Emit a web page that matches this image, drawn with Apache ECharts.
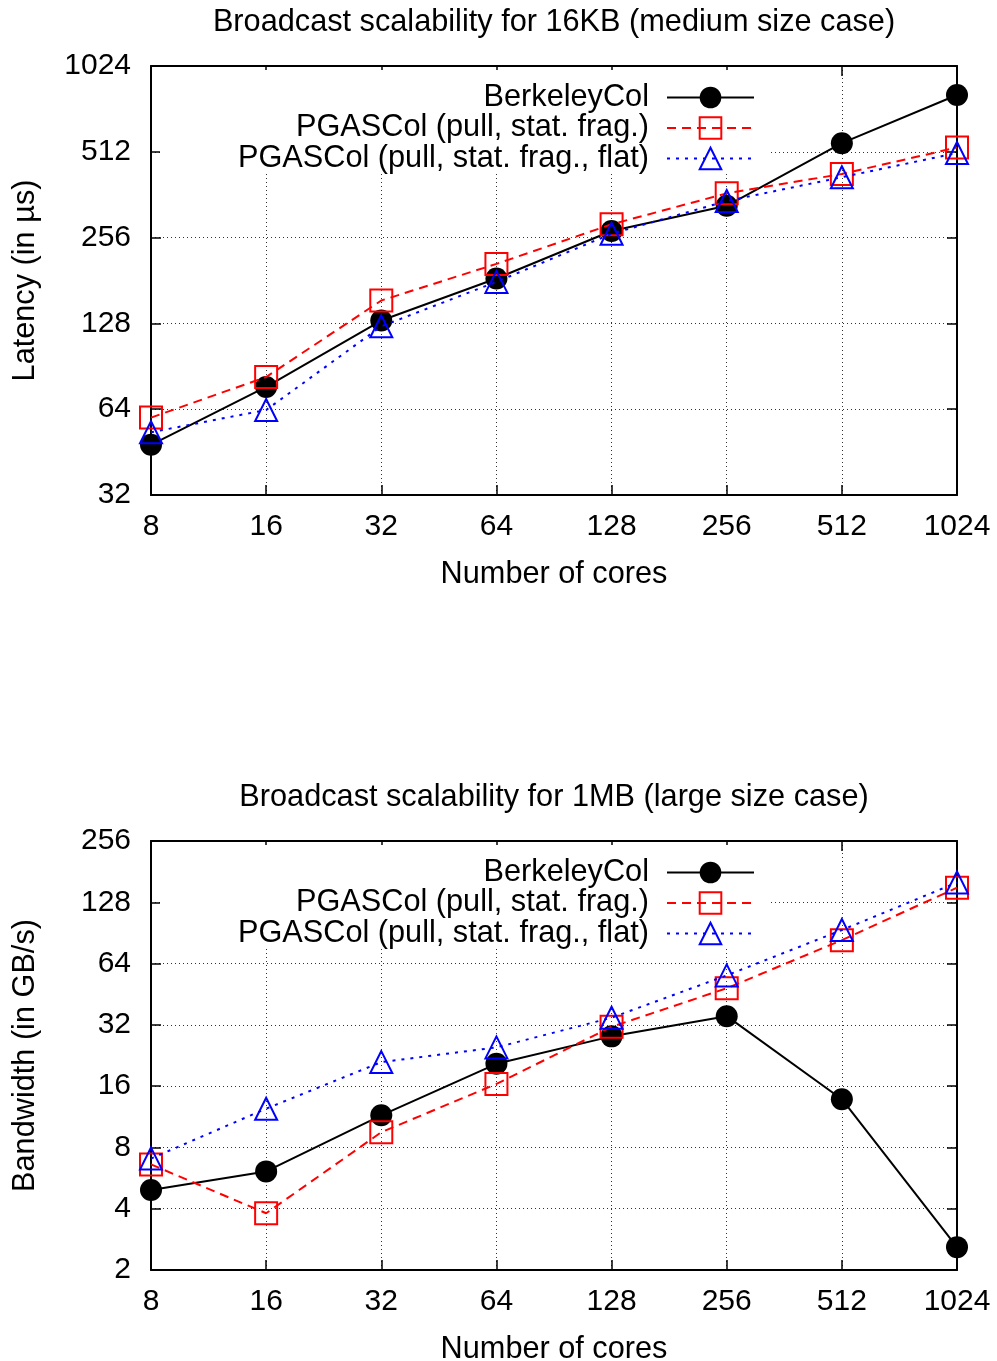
<!DOCTYPE html>
<html>
<head>
<meta charset="utf-8">
<script src="https://cdn.jsdelivr.net/npm/echarts@6/dist/echarts.min.js"></script>
<style>
html,body{margin:0;padding:0;background:#fff;}
#chart{width:997px;height:1361px;}
</style>
</head>
<body>
<div id="chart"></div>
<script>
// ---- data ----
const cores = [8, 16, 32, 64, 128, 256, 512, 1024];
const seriesNames = ['BerkeleyCol', 'PGASCol (pull, stat. frag.)', 'PGASCol (pull, stat. frag., flat)'];
// Top chart: latency (µs), 16KB
const latBerkeley = [48, 76.6, 131, 184, 270, 331, 549, 810];
const latPgas = [59.8, 83, 154, 207, 285, 366, 428, 530];
const latPgasFlat = [53.1, 63.6, 125, 179, 264, 344, 417, 507];
// Bottom chart: bandwidth (GB/s), 1MB
const bwBerkeley = [4.94, 6.1, 11.5, 20.6, 28.1, 35.3, 13.8, 2.59];
const bwPgas = [6.6, 3.8, 9.5, 16.4, 31.3, 48.4, 83.4, 151];
const bwPgasFlat = [7.05, 12.4, 21, 24.8, 34.7, 56, 93.5, 160];
const titles = ['Broadcast scalability for 16KB (medium size case)', 'Broadcast scalability for 1MB (large size case)'];
const yNames = ['Latency (in µs)', 'Bandwidth (in GB/s)'];
const xName = 'Number of cores';

const FONT = 'Liberation Sans, Arial, Helvetica, sans-serif';
const FS = 30.7;
const TFS = 30;
const chart = echarts.init(document.getElementById('chart'), null, {renderer: 'canvas'});

const gridTops = [66, 841];
const yRanges = [[32, 1024], [2, 256]];

function pairs(arr) { return cores.map((c, i) => [c, arr[i]]); }
function fmt(v) { return String(Math.round(v)); }

const styles = [
  {symbol: 'circle', symbolSize: 22, itemStyle: {color: '#000'}, lineStyle: {color: '#000', width: 2, type: 'solid'}},
  {symbol: 'rect', symbolSize: 22, itemStyle: {color: 'rgba(255,255,255,0)', borderColor: '#ff0000', borderWidth: 2}, lineStyle: {color: '#ff0000', width: 2, type: [9, 6]}},
  {symbol: 'triangle', symbolSize: 22, itemStyle: {color: 'rgba(255,255,255,0)', borderColor: '#0000ff', borderWidth: 2}, lineStyle: {color: '#0000ff', width: 2, type: [3, 6]}}
];

const grid = [], xAxis = [], yAxis = [], series = [], title = [], legend = [];
const dataSets = [[latBerkeley, latPgas, latPgasFlat], [bwBerkeley, bwPgas, bwPgasFlat]];

for (let g = 0; g < 2; g++) {
  grid.push({left: 151, right: 40, top: gridTops[g], height: 429, containLabel: false, outerBoundsMode: 'none'});
  title.push({
    text: titles[g], left: 554, top: gridTops[g] - 59, textAlign: 'center', padding: 0,
    textStyle: {fontFamily: FONT, fontSize: FS, fontWeight: 'normal', color: '#000'}
  });
  const tick = {show: true, inside: true, length: 10, lineStyle: {color: '#000', width: 1.5}};
  const line = {show: true, lineStyle: {color: '#000', width: 2}};
  const split = {show: true, lineStyle: {color: '#333', width: 1, type: [1, 3]}};
  xAxis.push({
    type: 'log', logBase: 2, min: 8, max: 1024, interval: 1, gridIndex: g, position: 'bottom',
    name: xName, nameLocation: 'middle', nameGap: 64,
    nameTextStyle: {fontFamily: FONT, fontSize: FS, color: '#000'},
    axisLine: line, axisTick: tick, splitLine: split, minorTick: {show: false},
    axisLabel: {fontFamily: FONT, fontSize: TFS, color: '#000', margin: 17, formatter: fmt}
  });
  xAxis.push({
    type: 'log', logBase: 2, min: 8, max: 1024, interval: 1, gridIndex: g, position: 'top',
    axisLine: line, axisTick: tick, splitLine: {show: false}, axisLabel: {show: false}
  });
  yAxis.push({
    type: 'log', logBase: 2, min: yRanges[g][0], max: yRanges[g][1], interval: 1, gridIndex: g, position: 'left',
    name: yNames[g], nameLocation: 'middle', nameGap: 110,
    nameTextStyle: {fontFamily: FONT, fontSize: FS, color: '#000'},
    axisLine: line, axisTick: tick, splitLine: split,
    axisLabel: {fontFamily: FONT, fontSize: TFS, color: '#000', margin: 20, formatter: fmt}
  });
  yAxis.push({
    type: 'log', logBase: 2, min: yRanges[g][0], max: yRanges[g][1], interval: 1, gridIndex: g, position: 'right',
    axisLine: line, axisTick: tick, splitLine: {show: false}, axisLabel: {show: false}
  });
  for (let s = 0; s < 3; s++) {
    series.push(Object.assign({
      type: 'line', name: seriesNames[s], xAxisIndex: g * 2, yAxisIndex: g * 2,
      data: pairs(dataSets[g][s]), clip: false, showSymbol: true, z: 2 + s,
      emphasis: {disabled: true}
    }, JSON.parse(JSON.stringify(styles[s]))));
  }
  legend.push({
    orient: 'vertical', align: 'right', right: 997 - 770, top: gridTops[g] + 4,
    data: seriesNames, itemWidth: 87, itemHeight: 27, itemGap: -0.5,
    backgroundColor: '#fff', padding: [12, 15, 0, 78],
    selectedMode: false,
    textStyle: {fontFamily: FONT, fontSize: FS, color: '#000', padding: [0, 13, 0, 0]}
  });
}

chart.setOption({
  animation: false,
  backgroundColor: '#fff',
  title, grid, xAxis, yAxis, legend, series
});
</script>
</body>
</html>
